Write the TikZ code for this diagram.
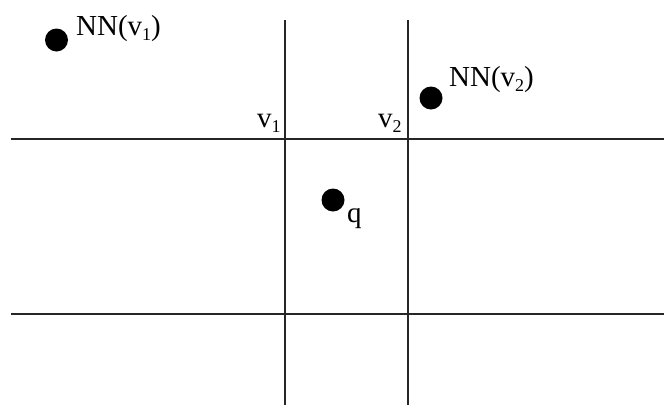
\documentclass[tikz,border=0pt]{standalone}
\usepackage{fontspec}
\setmainfont{Liberation Serif}
\newcommand{\lowsub}[1]{\raisebox{-5pt}{\fontsize{18}{18}\selectfont #1}}
\begin{document}
\begin{tikzpicture}[x=1pt,y=-1pt,
  gridline/.style={line width=2pt,draw=black!85},
  pt/.style={circle,fill=black,inner sep=0pt,minimum size=23pt},
  lbl/.style={inner sep=0pt,anchor=base west,font=\fontsize{29}{32}\selectfont}]
\useasboundingbox (0,0) rectangle (664,405);
% grid lines
\coordinate (h1a) at (11,138.5); \coordinate (h1b) at (664,138.5);
\coordinate (h2a) at (11,313.5); \coordinate (h2b) at (664,313.5);
\coordinate (v1a) at (285,20); \coordinate (v1b) at (285,405);
\coordinate (v2a) at (407.5,20); \coordinate (v2b) at (407.5,405);
\draw[gridline] (h1a) -- (h1b);
\draw[gridline] (h2a) -- (h2b);
\draw[gridline] (v1a) -- (v1b);
\draw[gridline] (v2a) -- (v2b);
% points
\node[pt] (p1) at (56.5,40) {};
\node[pt] (p2) at (431,98) {};
\node[pt] (pq) at (333,200) {};
% labels
\node[lbl] (l1) at (76,35) {NN(v\lowsub{1})};
\node[lbl] (l2) at (449,86) {NN(v\lowsub{2})};
\node[lbl] (lv1) at (257,127) {v\lowsub{1}};
\node[lbl] (lv2) at (378,127) {v\lowsub{2}};
\node[lbl] (lq) at (347,222) {q};
\end{tikzpicture}
\end{document}
